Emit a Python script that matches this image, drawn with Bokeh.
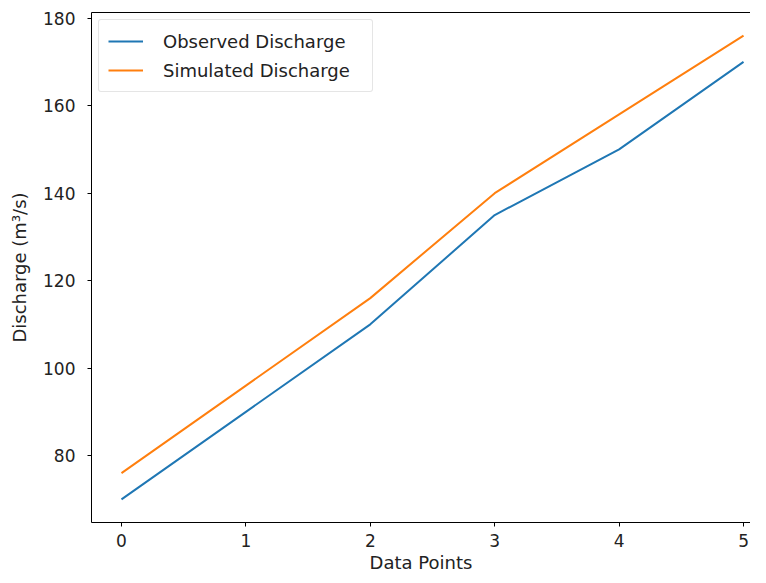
from bokeh.plotting import figure
from bokeh.models import Range1d, LinearAxis, FixedTicker, Legend, LegendItem
from bokeh.embed import file_html
from bokeh.resources import INLINE

data_points = [0, 1, 2, 3, 4, 5]
observed = [70, 90, 110, 135, 150, 170]
simulated = [76, 96, 116, 140, 158, 176]
x_ticks = [0, 1, 2, 3, 4, 5]
y_ticks = [80, 100, 120, 140, 160, 180]

FONT = "DejaVu Sans"

p = figure(width=750, height=575, output_backend="svg", toolbar_location=None,
           x_range=Range1d(-0.241, 5.056), y_range=Range1d(64.7, 181.3),
           min_border_left=91, min_border_right=0, min_border_top=12, min_border_bottom=53)
p.background_fill_color = "white"
p.border_fill_color = "white"
p.grid.visible = False
p.outline_line_color = None

r1 = p.line(data_points, observed, line_color="#1f77b4", line_width=2)
r2 = p.line(data_points, simulated, line_color="#ff7f0e", line_width=2)

for ax in (p.xaxis[0], p.yaxis[0]):
    ax.axis_line_color = "black"
    ax.axis_line_width = 1
    ax.major_tick_line_color = "black"
    ax.major_tick_in = 0
    ax.major_tick_out = 4
    ax.minor_tick_line_color = None
    ax.major_label_text_font = FONT
    ax.major_label_text_font_size = "17px"
    ax.major_label_text_color = "#222222"
    ax.axis_label_text_font = FONT
    ax.axis_label_text_font_size = "18px"
    ax.axis_label_text_font_style = "normal"
    ax.axis_label_text_color = "#222222"

p.xaxis[0].ticker = FixedTicker(ticks=x_ticks)
p.yaxis[0].ticker = FixedTicker(ticks=y_ticks)
p.xaxis[0].axis_label = "Data Points"
p.yaxis[0].axis_label = "Discharge (m³/s)"
p.xaxis[0].major_label_standoff = 7
p.xaxis[0].axis_label_standoff = 2
p.yaxis[0].major_label_standoff = 12
p.yaxis[0].axis_label_standoff = 10

top = LinearAxis(ticker=FixedTicker(ticks=[]), axis_line_color="black", axis_line_width=1,
                 major_tick_line_color=None, minor_tick_line_color=None,
                 major_label_text_font_size="0px", major_label_standoff=0)
p.add_layout(top, "above")

legend = Legend(items=[LegendItem(label="Observed Discharge", renderers=[r1]),
                       LegendItem(label="Simulated Discharge", renderers=[r2])],
                location="top_left")
legend.label_text_font = FONT
legend.label_text_font_size = "18px"
legend.label_text_color = "#222222"
legend.glyph_width = 35
legend.glyph_height = 24
legend.label_height = 24
legend.label_width = 200
legend.label_standoff = 20
legend.spacing = 5
legend.padding = 9
legend.margin = 7
legend.border_line_color = "#cccccc"
legend.border_line_width = 1
legend.border_radius = 3
legend.background_fill_alpha = 0.8
p.add_layout(legend)

open("out.html", "w").write(file_html(p, INLINE))
